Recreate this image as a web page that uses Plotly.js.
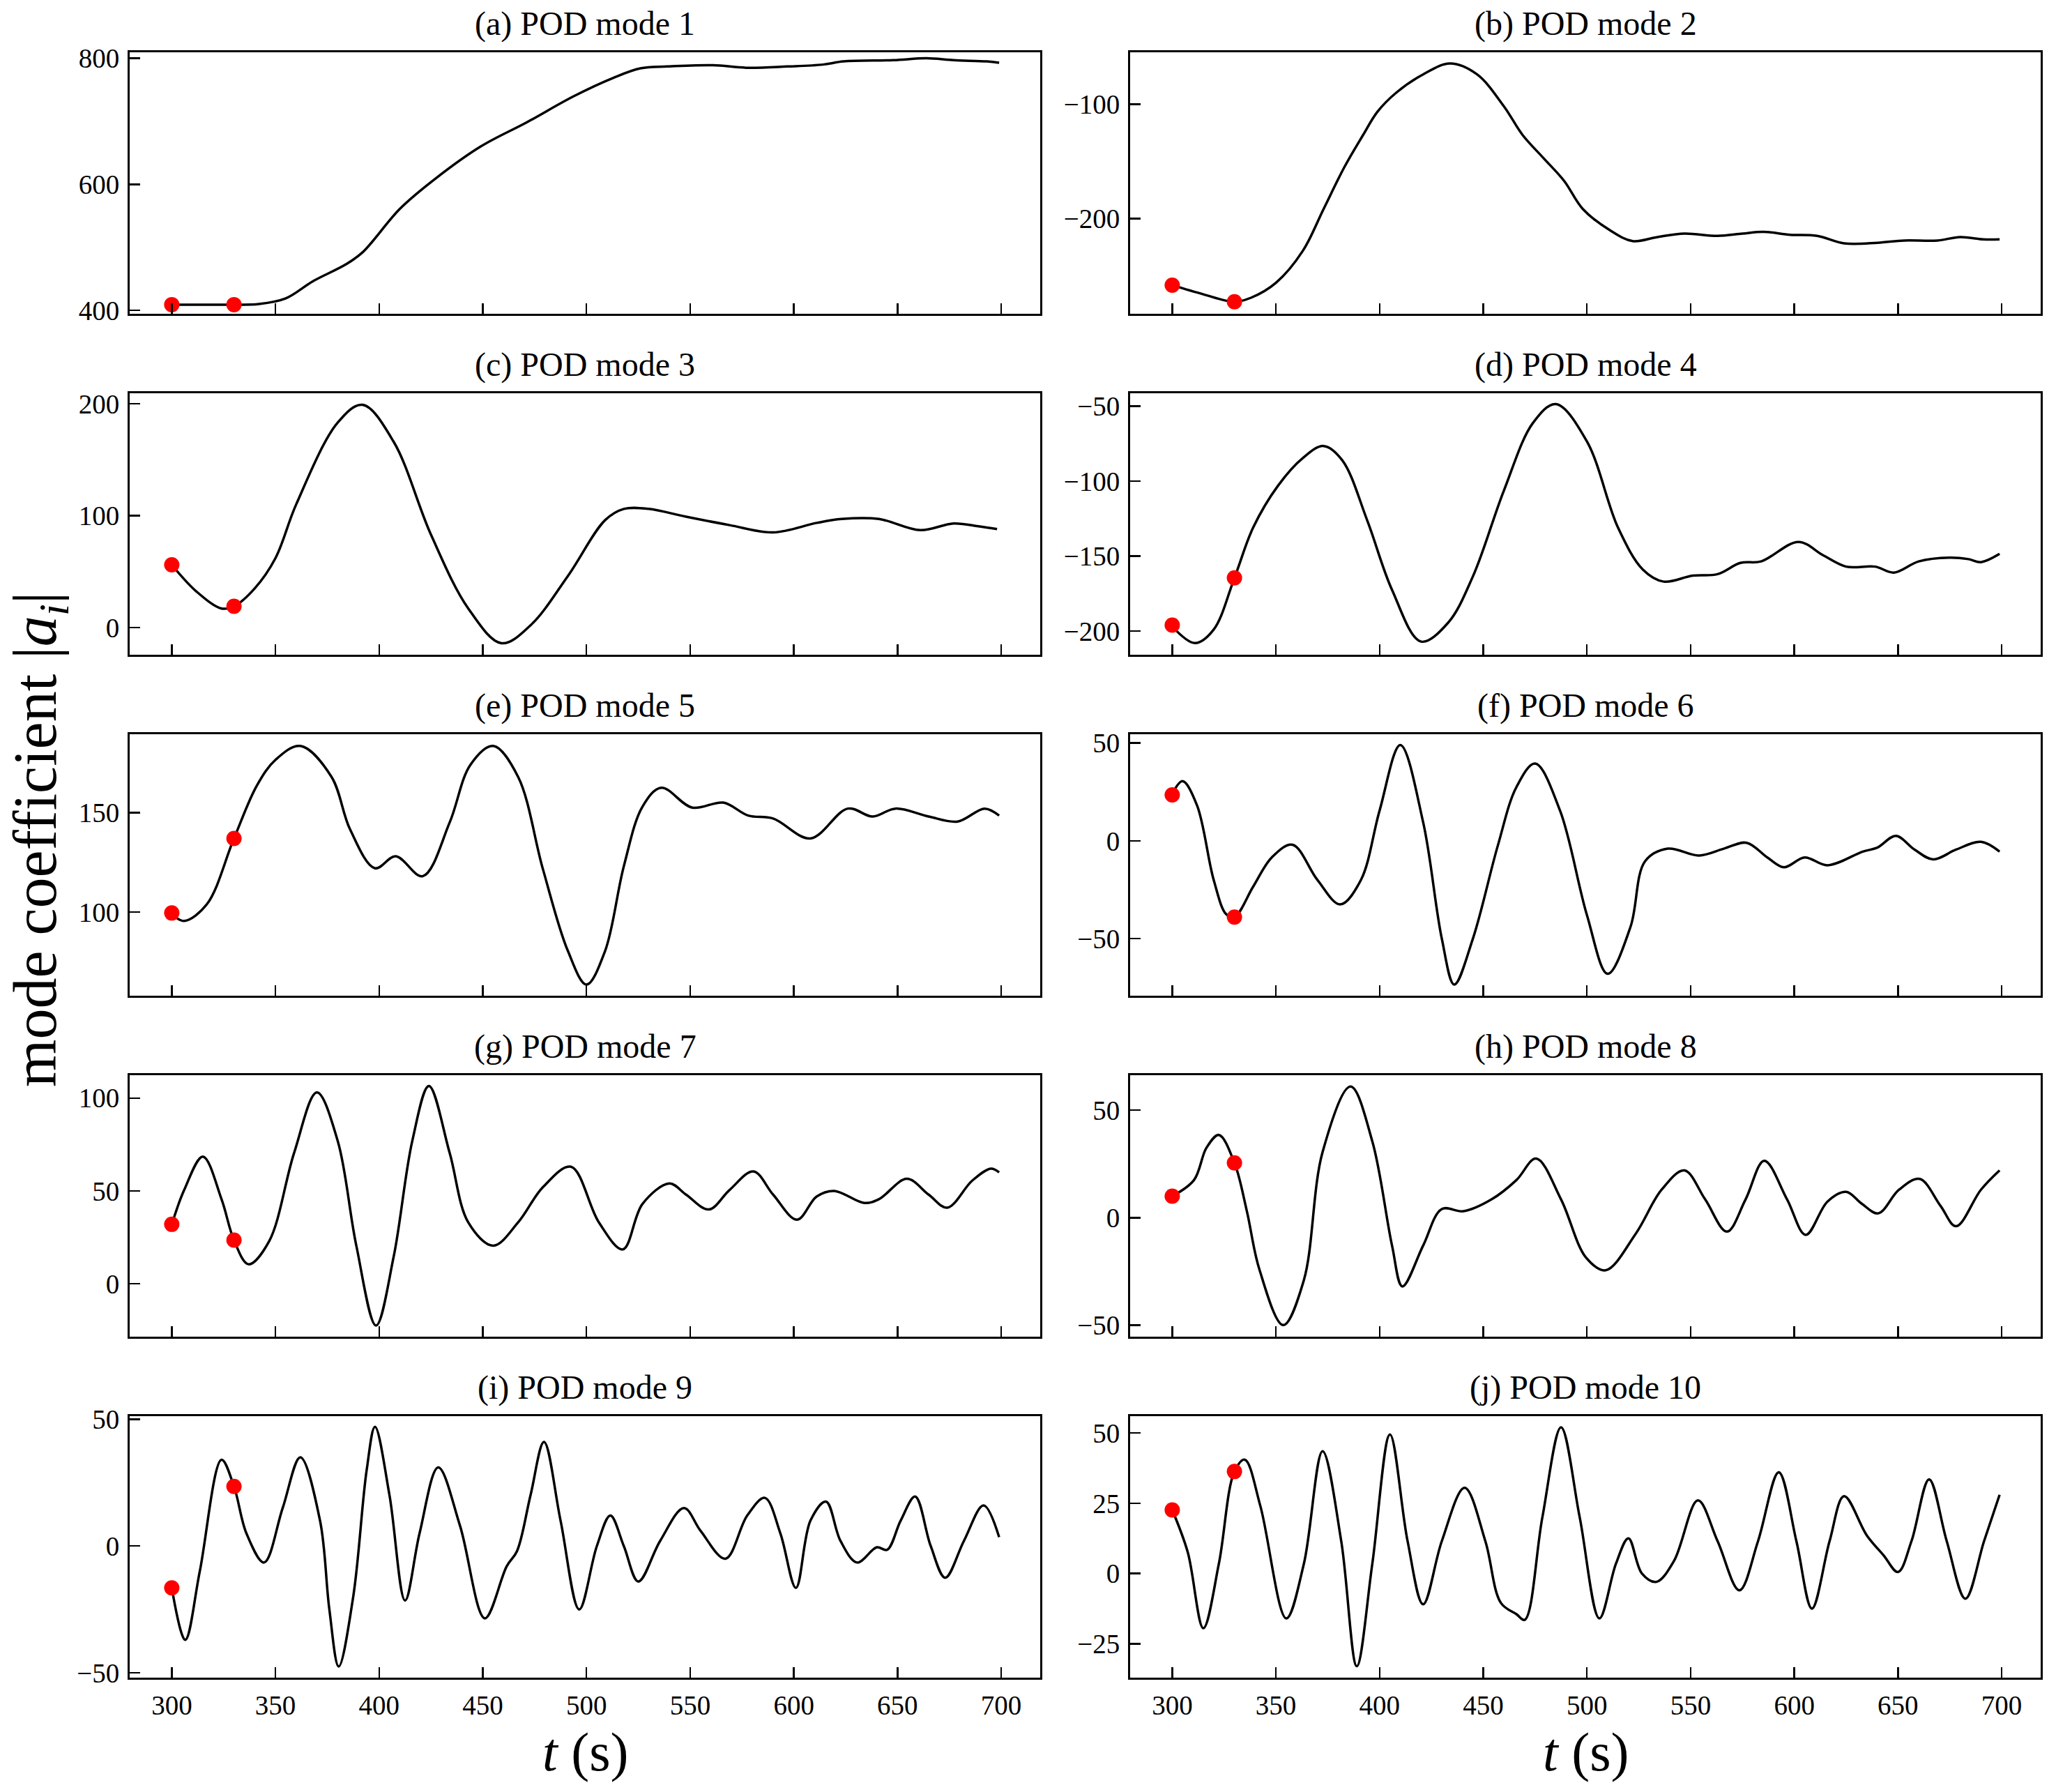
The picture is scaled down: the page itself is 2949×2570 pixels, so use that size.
<!DOCTYPE html>
<html>
<head>
<meta charset="utf-8">
<script src="https://cdn.plot.ly/plotly-3.0.1.min.js"></script>
<style>
  body { margin: 0; background: #fff; }
  #graph { width: 2949px; height: 2570px; }
</style>
</head>
<body>
<div id="graph"></div>
<script>
// time samples (s) and mode coefficients
var t1 = [300, 315, 330, 342, 355, 368, 384, 392, 410, 426, 449, 471, 494, 513, 526, 539, 561, 577, 597, 614, 624, 648, 664, 677, 693, 699];
var a1 = [409, 409, 409, 410, 419, 446, 473, 492, 561, 606, 660, 698, 740, 769, 784, 787, 789, 785, 787, 790, 795, 797, 800, 797, 795, 793];

var t2 = [300, 315, 330, 338, 350, 363, 373, 383, 392, 399, 408, 421, 434, 447, 460, 469, 479, 489, 498, 511, 522, 534, 547, 563, 575, 585, 598, 611, 624, 640, 653, 669, 680, 691, 699];
var a2 = [-258, -266, -272.5, -269, -256, -228, -191.5, -155, -127, -106.5, -90, -74, -64.5, -74, -102, -127, -147, -167, -191.5, -210, -219.5, -216, -213, -215, -213, -211.5, -214, -215, -221.5, -221, -219, -219, -216, -218, -218];

var t3 = [300, 312, 324, 330, 340, 350, 360, 380, 392, 407, 425, 443, 459, 473, 491, 509, 518, 530, 548, 569, 590, 611, 623, 641, 661, 677, 689, 698];
var a3 = [56, 32, 17, 19, 35, 62, 110, 183, 199, 166, 83, 17, -14, 2, 46, 96, 106, 106, 99, 91.5, 85, 93.5, 97, 97, 87, 93, 90.5, 88];

var t4 = [300, 311, 320, 330, 339, 351, 363, 373, 382, 394, 406, 420, 433, 445, 460, 474, 485, 500, 515, 527, 537, 551, 563, 574, 584, 602, 614, 625, 639, 648, 660, 675, 684, 690, 699];
var a4 = [-197, -208, -199, -164.5, -131, -103, -84.5, -76.5, -86, -126, -172.5, -207, -194.5, -163.5, -106, -61, -48.5, -73.5, -131, -159, -167, -163, -162, -154.5, -153.5, -140.5, -149.5, -157, -157, -161, -153.5, -151, -152, -154, -148.5];

var t5 = [300, 306, 317, 330, 341, 350, 362, 377, 386, 398, 408, 421, 434, 444, 455, 467, 479, 491, 500, 509, 518, 527, 536, 551, 566, 578, 590, 608, 626, 638, 649, 665, 679, 692, 699];
var a5 = [99, 95.5, 104, 137, 163.5, 176.5, 183.5, 168, 141.5, 122, 128, 118, 145, 174, 183.5, 168, 121.5, 80.5, 63.5, 80.5, 123, 153, 162.5, 152.5, 155, 148.5, 147, 137, 152, 148, 152, 148, 145.5, 152, 148.5];

var t6 = [300, 305, 312, 320, 326, 330, 339, 348, 358, 370, 381, 391, 400, 410, 421, 430, 436, 445, 457, 466, 475, 487, 500, 510, 521, 528, 539, 554, 566, 577, 587, 595, 605, 616, 633, 640, 649, 658, 667, 678, 690, 699];
var a6 = [24, 30.5, 18, -20, -37.5, -39, -23.5, -8.5, -2, -20, -32.5, -20, 15.5, 49, 9.5, -50, -73.5, -50, -2.5, 27.5, 39.5, 15.5, -38, -68, -44, -10.5, -4, -7.5, -4, -1, -8.5, -13.5, -8.5, -12.5, -5.5, -3.5, 2.5, -4.5, -9.5, -4.5, -0.5, -5.5];

var t7 = [300, 306, 315, 324, 330, 337, 347, 359, 370, 380, 389, 398.5, 407, 416, 424, 434, 443, 455, 467, 479, 492.5, 506, 517.5, 527, 540, 548, 559, 569, 580.5, 590, 601.5, 611, 619.5, 634, 641, 654.5, 665, 674, 686, 695, 699];
var a7 = [32, 50.5, 68.5, 45.5, 23.5, 10.5, 23, 70.5, 103, 77, 20.5, -22.5, 14.5, 77, 106.5, 70.5, 33, 20.5, 33, 52, 63, 33, 18.5, 43, 54, 48, 40, 50.5, 60.5, 48, 34.5, 47, 50, 43.5, 45.5, 56.5, 48, 41, 55.5, 62, 60];

var t8 = [300, 310.5, 316.5, 322.5, 330, 336, 342, 353.5, 363.5, 372.5, 386, 396.5, 406, 411, 421, 430, 440.5, 454, 466, 475.5, 487.5, 499.5, 509, 523.5, 536, 547, 557, 567.5, 576.5, 585.5, 596.5, 605.5, 616, 625, 632.5, 640.5, 650.5, 660.5, 670.5, 678, 690, 699];
var a8 = [10, 17.5, 32.5, 38.5, 25.5, 3, -24, -50, -29, 30.5, 61, 35.5, -13, -32, -13, 4, 3, 8.5, 17.5, 27.5, 8.5, -18.5, -24.5, -7.5, 13, 22, 8.5, -6.5, 8.5, 26.5, 8.5, -8, 7.5, 12, 6.5, 2, 13, 18, 5.5, -4, 13, 22];

var t9 = [300, 306.5, 313.5, 324, 330, 336, 344.5, 353.5, 362, 371.5, 376, 380.5, 387.5, 394, 398, 405, 412.5, 419.5, 428.5, 439, 451, 461.5, 466.5, 473, 479.5, 487.5, 496.5, 505, 511.5, 518, 525, 535.5, 547, 555, 567, 577.5, 586, 593.5, 601, 608, 615.5, 622.5, 630.5, 640, 645, 651.5, 658.5, 666, 673, 682, 691.5, 699];
var a9 = [-16.5, -37, -10, 34, 23.5, 5, -6.5, 15, 35, 10, -25, -47.5, -20, 30, 47, 20, -21.5, 5, 31, 8, -28.5, -8, -2, 20, 41, 10, -25, 0, 12, 0, -14, 2, 15, 6, -5, 12, 19, 5, -16.5, 10, 17.5, 2, -6.5, -0.5, -1.5, 10, 19.5, 0, -12.5, 2, 16, 3.5];

var t10 = [300, 307.5, 315, 322.5, 330, 335, 342.5, 355, 363.5, 372.5, 381.5, 389, 396.5, 405, 413.5, 421, 430, 441, 451, 458.5, 466, 470, 478.5, 487.5, 496.5, 506, 514, 520, 526.5, 533.5, 542, 553.5, 563, 573.5, 582.5, 592.5, 601, 608.5, 617, 624, 635, 643, 650, 656.5, 665, 673.5, 682.5, 691.5, 699];
var a10 = [22.6, 7.5, -19.5, 3.5, 36.3, 40.5, 24, -16, 3.5, 43.5, 11.5, -33, 3.5, 49.5, 11.5, -11, 11.5, 30.5, 11.5, -10.5, -14.5, -16.5, 20, 52, 20, -16, 3.5, 12.5, 0, -3, 4.5, 26, 11.5, -6, 11.5, 36, 11.5, -12.5, 11.5, 27.5, 13.5, 6.5, 0.5, 11.5, 33.5, 11.5, -9, 11.5, 28];

// the two red sample instants and their coefficients
var dotT = [300, 330];
var dotA = [[409, 409], [-258, -272.5], [56, 19], [-196, -164.5], [99.5, 137],
            [23.5, -39], [32, 23.5], [10, 25.5], [-16.5, 23.5], [22.6, 36.3]];

var panelTitles = ['(a) POD mode 1', '(b) POD mode 2', '(c) POD mode 3', '(d) POD mode 4',
                   '(e) POD mode 5', '(f) POD mode 6', '(g) POD mode 7', '(h) POD mode 8',
                   '(i) POD mode 9', '(j) POD mode 10'];
var yRanges = [[394.5, 809.5], [-283, -54.7], [-24.3, 209.3], [-215.8, -41.3], [57.9, 189.4],
               [-79.2, 54.5], [-28.5, 112.3], [-55.4, 66.3], [-51.9, 51.2], [-37.1, 56]];
var yDtick = [200, 100, 100, 50, 50, 50, 50, 50, 50, 25];
var xTicks = [300, 350, 400, 450, 500, 550, 600, 650, 700];

var allT = [t1, t2, t3, t4, t5, t6, t7, t8, t9, t10];
var allA = [a1, a2, a3, a4, a5, a6, a7, a8, a9, a10];

var W = 2949, H = 2570;
var FONT = 'Liberation Serif, Times New Roman, serif';
var colPx = [[186, 1492], [1621, 2927]];
var rowTop = [75, 564, 1053, 1542, 2031];
var rowH = 375;

var data = [];
var layout = {
    width: W, height: H,
    margin: {t: 0, b: 0, l: 0, r: 0},
    showlegend: false,
    paper_bgcolor: 'white', plot_bgcolor: 'white',
    font: {family: FONT, color: 'black'},
    annotations: []
};

for (var i = 0; i < 10; i++) {
    var row = Math.floor(i / 2), col = i % 2;
    var sfx = i == 0 ? '' : String(i + 1);
    var xd = [colPx[col][0] / W, colPx[col][1] / W];
    var yd = [1 - (rowTop[row] + rowH) / H, 1 - rowTop[row] / H];

    data.push({x: allT[i], y: allA[i], xaxis: 'x' + sfx, yaxis: 'y' + sfx, mode: 'lines',
               line: {color: 'black', width: 3.5, shape: 'spline', smoothing: 1}, hoverinfo: 'skip'});
    data.push({x: dotT, y: dotA[i], xaxis: 'x' + sfx, yaxis: 'y' + sfx, mode: 'markers',
               marker: {color: '#ff0000', size: 22}, hoverinfo: 'skip'});

    layout['xaxis' + sfx] = {
        domain: xd, anchor: 'y' + sfx, range: [279.7, 718.8],
        tickmode: 'array', tickvals: xTicks,
        ticks: 'inside', ticklen: 15, tickwidth: 2.5, tickcolor: 'black',
        showline: true, linewidth: 3, linecolor: 'black', mirror: true,
        showgrid: false, zeroline: false,
        showticklabels: row == 4, ticklabelstandoff: 3,
        tickfont: {family: FONT, size: 39, color: 'black'}
    };
    layout['yaxis' + sfx] = {
        domain: yd, anchor: 'x' + sfx, range: yRanges[i],
        tick0: 0, dtick: yDtick[i],
        ticks: 'inside', ticklen: 15, tickwidth: 2.5, tickcolor: 'black',
        showline: true, linewidth: 3, linecolor: 'black', mirror: true,
        showgrid: false, zeroline: false, ticklabelstandoff: 4,
        tickfont: {family: FONT, size: 39, color: 'black'}
    };

    layout.annotations.push({
        text: panelTitles[i], xref: 'paper', yref: 'paper',
        x: (xd[0] + xd[1]) / 2, y: 1 - (rowTop[row] - 41) / H,
        xanchor: 'center', yanchor: 'middle', showarrow: false,
        font: {family: FONT, size: 48, color: 'black'}
    });
}

// shared axis labels
for (var c = 0; c < 2; c++) {
    layout.annotations.push({
        text: '<i>t</i> (s)', xref: 'paper', yref: 'paper',
        x: (colPx[c][0] + colPx[c][1]) / 2 / W, y: 1 - 2512 / H,
        xanchor: 'center', yanchor: 'middle', showarrow: false,
        font: {family: FONT, size: 78, color: 'black'}
    });
}
layout.annotations.push({
    text: 'mode coefficient |<i>a<sub>i</sub></i>|', xref: 'paper', yref: 'paper',
    x: 56 / W, y: 1 - 1204 / H, textangle: -90,
    xanchor: 'center', yanchor: 'middle', showarrow: false,
    font: {family: FONT, size: 88, color: 'black'}
});

Plotly.newPlot('graph', data, layout, {staticPlot: true});
</script>
</body>
</html>
